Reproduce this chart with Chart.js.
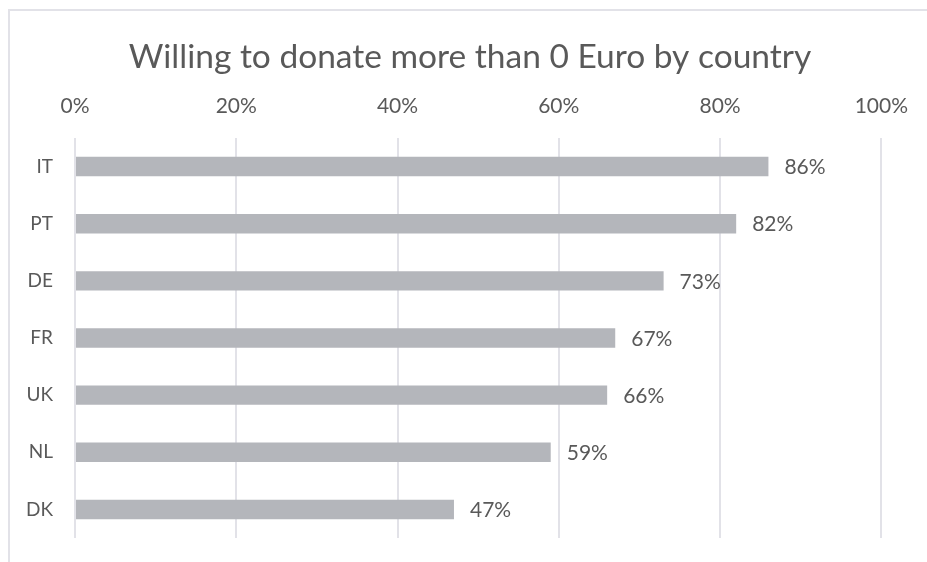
<!DOCTYPE html>
<html>
<head>
<meta charset="utf-8">
<script src="https://cdn.jsdelivr.net/npm/chart.js@4/dist/chart.umd.min.js"></script>
<style>
  body { margin: 0; background: #fff; }
  #wrap { position: relative; width: 927px; height: 562px; overflow: hidden; }
  #frame {
    position: absolute; left: 8px; top: 9px; width: 1000px; height: 700px;
    border-top: 2px solid #e2e2e8; border-left: 2px solid #e2e2e8;
  }
  #myChart { position: absolute; left: 0; top: 0; }
</style>
</head>
<body>
<div id="wrap">
  <div id="frame"></div>
  <canvas id="myChart" width="927" height="562"></canvas>
</div>
<script>
var paises = ['IT', 'PT', 'DE', 'FR', 'UK', 'NL', 'DK'];
var valores = [86, 82, 73, 67, 66, 59, 47];
var ticksX = [0, 20, 40, 60, 80, 100];
var titulo = 'Willing to donate more than 0 Euro by country';

var cinzaTexto = '#595959';

// titulo centrado no quadro inteiro (e nao so na area do grafico)
var tituloQuadro = {
  id: 'tituloQuadro',
  afterDraw(chart) {
    var ctx = chart.ctx;
    ctx.save();
    ctx.font = '33.5px Lato';
    ctx.fillStyle = cinzaTexto;
    ctx.textAlign = 'center';
    ctx.textBaseline = 'middle';
    ctx.fillText(titulo, 470, 57);
    ctx.restore();
  }
};

// escreve o valor (%) no fim de cada barra
var rotulosBarras = {
  id: 'rotulosBarras',
  afterDatasetsDraw(chart) {
    var ctx = chart.ctx;
    var meta = chart.getDatasetMeta(0);
    ctx.save();
    ctx.font = '21px Lato';
    ctx.fillStyle = cinzaTexto;
    ctx.textAlign = 'left';
    ctx.textBaseline = 'middle';
    meta.data.forEach(function (bar, i) {
      ctx.fillText(valores[i] + '%', bar.x + 16, bar.y + 1);
    });
    ctx.restore();
  }
};

var config = {
  type: 'bar',
  data: {
    labels: paises,
    datasets: [{
      data: valores,
      backgroundColor: '#b4b6bb',
      barPercentage: 0.34,
      categoryPercentage: 1
    }]
  },
  options: {
    indexAxis: 'y',
    responsive: false,
    animation: false,
    layout: { padding: { top: 76, right: 44, bottom: 24, left: 10 } },
    plugins: {
      legend: { display: false },
      tooltip: { enabled: false },
      title: { display: false }
    },
    scales: {
      x: {
        position: 'top',
        min: 0,
        max: 100,
        afterBuildTicks: function (scale) {
          scale.ticks = ticksX.map(function (v) { return { value: v }; });
        },
        afterFit: function (scale) { scale.height = 62; },
        ticks: {
          color: cinzaTexto,
          font: { family: 'Lato', size: 21 },
          padding: 19,
          callback: function (v) { return v + '%'; }
        },
        grid: { color: '#e2e2e8', lineWidth: 2, drawTicks: false },
        border: { display: false }
      },
      y: {
        afterFit: function (scale) {
          scale.width = 65;
          // sem folga extra em cima/baixo por causa do padding dos rotulos
          scale.paddingTop = 0;
          scale.paddingBottom = 0;
        },
        ticks: {
          color: cinzaTexto,
          font: { family: 'Lato', size: 19 },
          padding: 22
        },
        grid: { display: false, drawTicks: false },
        border: { display: false }
      }
    }
  },
  plugins: [rotulosBarras, tituloQuadro]
};

window.myChart = new Chart(document.getElementById('myChart'), config);
</script>
</body>
</html>
